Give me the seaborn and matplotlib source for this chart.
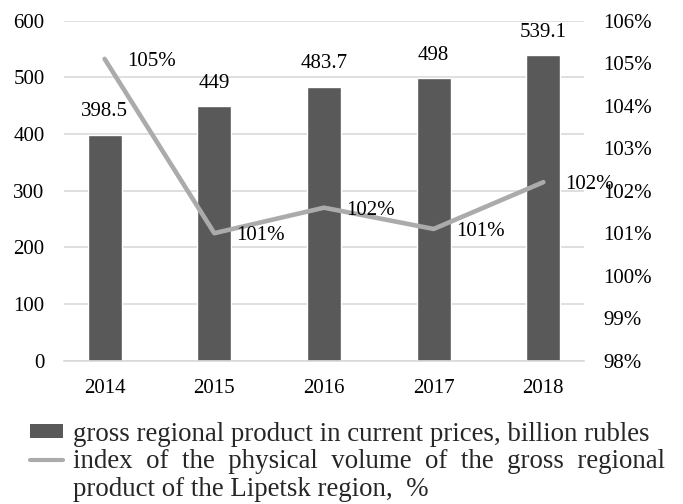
import numpy as np
import pandas as pd
import seaborn as sns
import matplotlib.pyplot as plt
from matplotlib.patches import Patch
from matplotlib.lines import Line2D

# data
years = ["2014", "2015", "2016", "2017", "2018"]
grp_values = [398.5, 449, 483.7, 498, 539.1]          # billion rubles
index_values = [105.1, 101.0, 101.6, 101.1, 102.2]    # % of previous year

bar_label = "gross regional product in current prices, billion rubles"
line_label_1 = "index  of  the  physical  volume  of  the  gross  regional"
line_label_2 = "product of the Lipetsk region,  %"

bar_color = "#595959"
line_color = "#ababab"
grid_color = "#d9d9d9"

sns.set_theme(style="white")
plt.rcParams["font.family"] = ["Liberation Serif", "DejaVu Serif"]

df = pd.DataFrame({"year": years, "grp": grp_values, "index": index_values})

fig = plt.figure(figsize=(6.83, 5.04), dpi=100)
ax = fig.add_axes([0.0937, 0.2843, 0.7613, 0.6747])

sns.barplot(data=df, x="year", y="grp", color=bar_color, width=0.31,
            saturation=1, ax=ax, zorder=2)
ax.set_ylim(0, 600)
ax.set_yticks(range(0, 601, 100))
ax.grid(axis="y", color=grid_color, linewidth=1.2, zorder=0)
ax.set_axisbelow(True)
for side in ["top", "left", "right"]:
    ax.spines[side].set_visible(False)
ax.spines["bottom"].set_color(grid_color)
ax.spines["bottom"].set_linewidth(1.2)
ax.set_xlabel("")
ax.set_ylabel("")
ax.tick_params(axis="y", length=0, pad=14, labelsize=15, labelcolor="black")
ax.tick_params(axis="x", length=0, pad=13, labelsize=15, labelcolor="black")

# bar value labels
for i, v in enumerate(grp_values):
    ax.annotate(f"{v:g}", xy=(i, v), xytext=(0, 16.5), textcoords="offset points",
                ha="center", va="center", fontsize=15, color="black")

ax2 = ax.twinx()
sns.lineplot(x=np.arange(len(years)), y=index_values, ax=ax2, color=line_color,
             linewidth=3.3, sort=False)
ax2.set_ylim(98, 106)
ax2.set_yticks(range(98, 107))
ax2.set_yticklabels([f"{t}%" for t in range(98, 107)])
for side in ["top", "left", "right", "bottom"]:
    ax2.spines[side].set_visible(False)
ax2.tick_params(axis="y", length=0, pad=14, labelsize=15, labelcolor="black")
ax2.set_ylabel("")
ax2.grid(False)

for i, v in enumerate(index_values):
    ax2.annotate(f"{v:.0f}%", xy=(i, v), xytext=(16, -2), textcoords="offset points",
                 ha="left", va="center", fontsize=15, color="black")

# legend below the plot
handles = [Patch(facecolor=bar_color, edgecolor="none"),
           Line2D([], [], color=line_color, linewidth=3)]
leg = fig.legend(handles, [bar_label, line_label_1], loc="upper left",
                 bbox_to_anchor=(0.0446, 0.163), frameon=False, fontsize=19.4,
                 handlelength=1.22, handleheight=0.4, handletextpad=0.37,
                 labelspacing=0.07, borderaxespad=0, borderpad=0)
fig.text(73 / 683, 1 - 489 / 504, line_label_2, fontsize=19.4, ha="left", va="center")

fig.savefig("out.png", dpi=100)
